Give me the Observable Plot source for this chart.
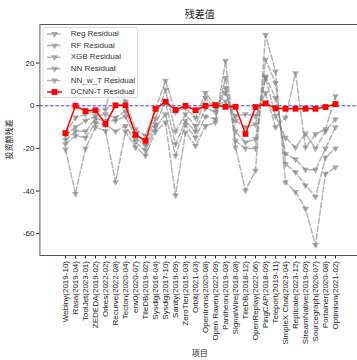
<!DOCTYPE html>
<html><head><meta charset="utf-8">
<script src="https://cdn.jsdelivr.net/npm/d3@7"></script>
<script src="https://cdn.jsdelivr.net/npm/@observablehq/plot@0.6"></script>
<style>
html,body{margin:0;padding:0;background:#fff;}
#chart{width:357px;height:360px;overflow:hidden;}
</style></head><body><div id="chart"></div>
<script>
// Projects (funding rounds) on the x axis
const projects = [
  "Webiny(2019-10)", "Rasa(2019-04)", "ToolJet(2023-01)", "ZEDEDA(2019-02)", "Orkes(2022-02)",
  "Recurve(2022-08)", "Tecton(2020-04)", "env0(2020-07)", "TileDB(2019-02)", "Sysdig(2016-04)",
  "Sysdig(2017-10)", "Sanity(2019-09)", "ZeroTier(2015-03)", "Orbit(2021-03)", "Opentrons(2020-08)",
  "Open Raven(2022-09)", "Pantheon(2019-03)", "SignalWire(2018-08)", "TileDB(2018-12)", "OpenReplay(2022-06)",
  "PingCAP(2018-09)", "Teleport(2019-11)", "SimpleX Chat(2023-04)", "Replicate(2023-12)", "StreamNative(2019-09)",
  "Sourcegraph(2020-07)", "Portainer(2020-08)", "Optimism(2021-02)"
];

// Residuals of each model per project
const regResidual  = [-20.5, -41.3, -20, -10, -11.8, -35.8, -12, -19.5, -23.4, -12, -7.8, -42, -12.5, -18.8, -9.5, -7.8, 21, -19.5, -39.7, -30.4, 33.2, 16.1, -35.8, -40.4, -48.2, -65.3, -31.9, -28.8];
const rfResidual   = [-18, -14, -15, -8, -9, -12, -9.5, -17, -21, -10.2, -4, -23.4, -9, -15, -5, -6.3, 13, -16.4, -20, -20, 21.6, 10.7, -27.3, -31.1, -37.3, -42.7, -24.2, -20];
const xgbResidual  = [-16, -12, -12, -6.3, -7, -7, -5, -15, -18.8, -8.7, 2, -18, -7, -12, -1, -3, 8.4, -12, -17.2, -15.6, 13.8, 3.7, -22.6, -25, -30, -30, -20, -10];
const nnResidual   = [-14, -10, -7, -4.8, -4, -5.6, -2.5, -13, -17, -6, 7.6, -12, -4, -9.5, 3.7, -1, 6, -7, -10, -8.7, 13, -4.8, -15, -19.5, -13, -20, -12, -6.3];
const nnwtResidual = [-13, -5.5, -4, -2.5, -1.7, 18, 2, -11, -14, -1.7, 11.8, -3, -1, -5.6, 6, 0, 2, -4.8, -4, -4.8, 6, -10, -5.6, 15.3, -19.5, -13.3, -11, 4.5];
const dcnnResidual = [-12.8, 0, -2.5, -2.1, -8.5, 0.2, 0.2, -13.6, -16.4, -1.4, 1.9, -2, 0, -2.1, 0, 0.3, -0.5, -0.5, -13.2, -0.6, 1.1, -1.2, -1.4, -1.4, -1.4, -1.4, -0.6, 0.8];

const yTicks = [-60, -40, -20, 0, 20];
const grayNames = ["Reg Residual", "RF Residual", "XGB Residual", "NN Residual", "NN_w_T Residual"];
const dcnnName = "DCNN-T Residual";

const FONT = '"Liberation Sans", Arial, "Noto Sans CJK SC", sans-serif';

// Downward-pointing triangle marker
const triangleDown = {
  draw(ctx, size) {
    const y = Math.sqrt(size / (3 * Math.sqrt(3)));
    const x = Math.sqrt(3) * y;
    ctx.moveTo(0, 2 * y);
    ctx.lineTo(x, -y);
    ctx.lineTo(-x, -y);
    ctx.closePath();
  }
};

const graySeries = [regResidual, rfResidual, xgbResidual, nnResidual, nnwtResidual];
const grayRows = graySeries.flatMap((vals, k) =>
  vals.map((v, i) => ({model: grayNames[k], project: projects[i], value: v})));
const dcnnRows = projects.map((p, i) => ({project: p, value: dcnnResidual[i]}));

const W = 357, H = 360;
const mL = 39.4, mR = -3.3, mT = 24, mB = 105;

const chart = Plot.plot({
  width: W, height: H,
  marginLeft: mL, marginRight: mR, marginTop: mT, marginBottom: mB,
  style: {fontFamily: FONT, fontSize: "8px", color: "#222", background: "#fff", overflow: "hidden"},
  x: {type: "point", domain: projects, padding: 1.35, label: null},
  y: {domain: [-70.2, 38.1], label: null},
  marks: [
    Plot.ruleY([0], {stroke: "blue", strokeOpacity: 0.75, strokeWidth: 1, strokeDasharray: "3.7,1.6"}),
    ...grayNames.map(name => Plot.line(grayRows.filter(d => d.model === name), {
      x: "project", y: "value", stroke: "gray", strokeOpacity: 0.6, strokeWidth: 1.5, strokeDasharray: "5.5,2.4"
    })),
    Plot.dot(grayRows, {x: "project", y: "value", symbol: triangleDown, r: 2.5, fill: "gray", fillOpacity: 0.65, stroke: "none"}),
    Plot.line(dcnnRows, {x: "project", y: "value", stroke: "red", strokeWidth: 1.5}),
    Plot.dot(dcnnRows, {x: "project", y: "value", symbol: "square", r: 3.3, fill: "red", stroke: "none"}),
    Plot.axisY({ticks: yTicks, tickSize: 3.5, tickPadding: 2, tickFormat: d => String(d), label: null}),
    Plot.axisX({tickSize: 3.5, tickPadding: 2, tickRotate: -90, label: null}),
    Plot.frame({stroke: "#555", strokeWidth: 1})
  ]
});
document.getElementById("chart").appendChild(chart);

// Title, axis labels and in-plot legend
const svg = d3.select(chart);
const cx = (mL + (W - mR)) / 2;
const cy = (mT + (H - mB)) / 2;
svg.append("text").attr("x", cx).attr("y", 15).attr("text-anchor", "middle").attr("dominant-baseline", "middle")
  .attr("font-family", FONT).attr("font-size", 10).attr("fill", "#222").text("残差值");
svg.append("text").attr("transform", `translate(10,${cy}) rotate(-90)`).attr("text-anchor", "middle").attr("dominant-baseline", "middle")
  .attr("font-family", FONT).attr("font-size", 8).attr("fill", "#222").text("投资额残差");
svg.append("text").attr("x", cx).attr("y", 354).attr("text-anchor", "middle").attr("dominant-baseline", "middle")
  .attr("font-family", FONT).attr("font-size", 8).attr("fill", "#222").text("项目");

const lg = svg.append("g").attr("font-family", FONT).attr("font-size", 8).attr("text-anchor", "start");
lg.append("rect").attr("x", 43).attr("y", 27.5).attr("width", 94.5).attr("height", 70).attr("rx", 2)
  .attr("fill", "#fff").attr("fill-opacity", 0.8).attr("stroke", "#d0d0d0").attr("stroke-width", 0.8);
const entries = grayNames.map(n => ({name: n, gray: true})).concat([{name: dcnnName, gray: false}]);
entries.forEach((e, i) => {
  const y = 34 + i * 11.6;
  lg.append("line").attr("x1", 47).attr("x2", 62).attr("y1", y).attr("y2", y)
    .attr("stroke", e.gray ? "gray" : "red").attr("stroke-opacity", e.gray ? 0.6 : 1).attr("stroke-width", 1.5)
    .attr("stroke-dasharray", e.gray ? "5.5,2.4" : null);
  lg.append("path").attr("transform", `translate(54.5,${y})`)
    .attr("d", d3.symbol().type(e.gray ? triangleDown : d3.symbolSquare).size(e.gray ? 2.5 * 2.5 * Math.PI : 3.3 * 3.3 * Math.PI)())
    .attr("fill", e.gray ? "gray" : "red").attr("fill-opacity", e.gray ? 0.65 : 1);
  lg.append("text").attr("x", 70.7).attr("y", y).attr("text-anchor", "start").attr("dominant-baseline", "middle")
    .attr("fill", "#333").text(e.name);
});
</script>
</body></html>
